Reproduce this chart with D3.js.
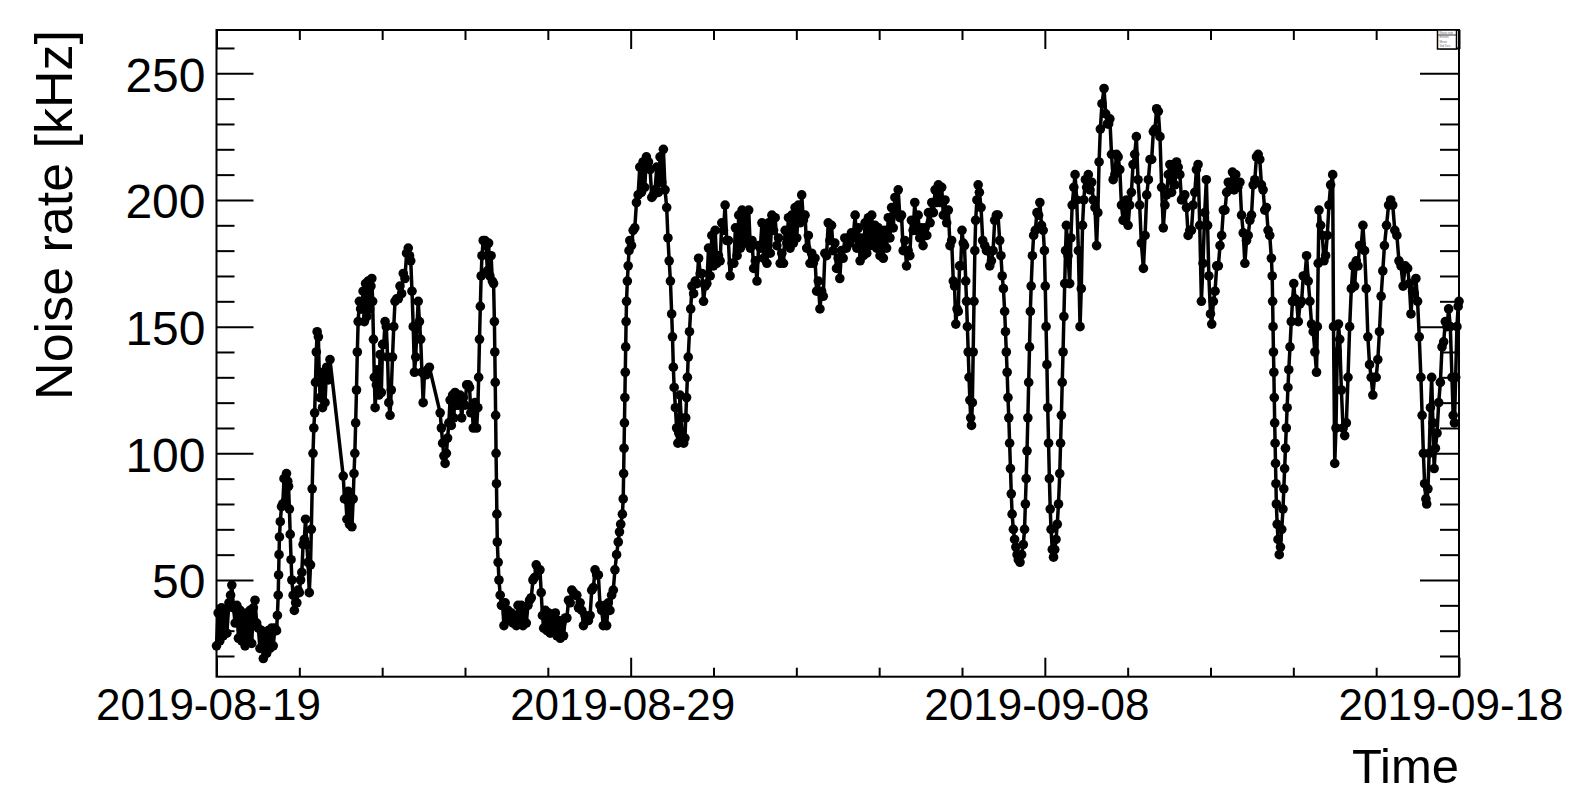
<!DOCTYPE html>
<html>
<head>
<meta charset="utf-8">
<script src="https://cdn.jsdelivr.net/npm/d3@7"></script>
<style>
body { margin: 0; background: #fff; }
text { font-family: "Liberation Sans", Arial, Helvetica, sans-serif; fill: #000; }
</style>
</head>
<body>
<svg id="chart"></svg>
<script>
var width = 1575;
var height = 800;
var frameL = 216.5, frameR = 1459, frameT = 30, frameB = 676.7;

// time axis: days since 2019-08-19 00:00 UTC
var startDate = Date.UTC(2019, 7, 19);
var endDate = Date.UTC(2019, 8, 18);
var yRange = [11.83, 267.09];
var yMajorTicks = [50, 100, 150, 200, 250];
var yMinorTicks = [20, 30, 40, 60, 70, 80, 90, 110, 120, 130, 140, 160, 170, 180, 190, 210, 220, 230, 240, 260];

var days = [
  0.00,0.04,0.08,0.12,0.16,0.20,0.25,0.30,0.34,0.37,0.41,0.45,0.49,0.53,0.57,0.61,0.65,0.69,0.73,0.77,
  0.81,0.85,0.89,0.93,0.97,1.01,1.05,1.09,1.13,1.17,1.21,1.25,1.29,1.33,1.37,1.41,1.45,1.47,1.49,1.50,
  1.51,1.52,1.54,1.57,1.60,1.63,1.66,1.69,1.72,1.74,1.76,1.78,1.80,1.82,1.85,1.88,1.91,1.94,1.97,2.00,
  2.03,2.06,2.09,2.12,2.15,2.18,2.21,2.24,2.27,2.29,2.31,2.33,2.35,2.37,2.39,2.41,2.43,2.46,2.48,2.50,
  2.53,2.56,2.59,2.62,2.66,2.70,2.74,3.06,3.09,3.12,3.15,3.18,3.21,3.24,3.27,3.30,3.32,3.34,3.36,3.38,
  3.40,3.42,3.45,3.48,3.51,3.54,3.57,3.60,3.63,3.66,3.70,3.73,3.75,3.77,3.79,3.81,3.83,3.86,3.89,3.92,
  3.95,3.98,4.01,4.04,4.07,4.10,4.13,4.16,4.19,4.22,4.25,4.28,4.31,4.35,4.39,4.43,4.47,4.51,4.55,4.59,
  4.63,4.66,4.69,4.72,4.75,4.78,4.81,4.84,4.87,4.90,4.93,4.96,4.99,5.02,5.06,5.10,5.14,5.40,5.43,5.46,
  5.49,5.52,5.55,5.58,5.61,5.64,5.67,5.70,5.73,5.76,5.80,5.84,5.88,5.92,5.96,6.00,6.04,6.08,6.11,6.14,
  6.17,6.20,6.24,6.28,6.31,6.33,6.35,6.37,6.39,6.41,6.44,6.48,6.51,6.54,6.57,6.60,6.63,6.66,6.69,6.71,
  6.72,6.73,6.74,6.75,6.76,6.77,6.78,6.80,6.82,6.85,6.88,6.91,6.94,6.97,7.00,7.04,7.08,7.12,7.16,7.20,
  7.24,7.28,7.32,7.36,7.40,7.44,7.48,7.52,7.56,7.60,7.64,7.68,7.72,7.77,7.81,7.84,7.87,7.90,7.94,7.98,
  8.02,8.06,8.10,8.14,8.18,8.22,8.26,8.30,8.34,8.38,8.42,8.46,8.50,8.54,8.58,8.62,8.66,8.70,8.74,8.78,
  8.82,8.86,8.90,8.94,8.98,9.02,9.06,9.10,9.14,9.18,9.22,9.26,9.30,9.34,9.38,9.42,9.46,9.50,9.54,9.58,
  9.62,9.66,9.70,9.73,9.76,9.80,9.82,9.83,9.84,9.85,9.86,9.87,9.88,9.89,9.90,9.92,9.94,9.96,9.98,10.02,
  10.06,10.10,10.14,10.18,10.22,10.26,10.30,10.34,10.38,10.43,10.47,10.51,10.55,10.59,10.63,10.67,10.71,10.75,10.79,10.83,
  10.87,10.90,10.93,10.96,10.99,11.01,11.03,11.05,11.08,11.11,11.14,11.16,11.19,11.22,11.25,11.28,11.31,11.33,11.35,11.37,
  11.39,11.42,11.45,11.48,11.52,11.56,11.60,11.64,11.68,11.72,11.76,11.80,11.84,11.88,11.92,11.96,12.00,12.04,12.08,12.12,
  12.16,12.20,12.24,12.28,12.32,12.36,12.40,12.45,12.49,12.53,12.57,12.61,12.65,12.69,12.73,12.77,12.81,12.85,12.89,12.93,
  12.97,13.01,13.05,13.09,13.13,13.17,13.21,13.25,13.29,13.33,13.37,13.41,13.45,13.49,13.53,13.57,13.61,13.65,13.69,13.73,
  13.77,13.81,13.85,13.89,13.93,13.97,14.01,14.05,14.09,14.13,14.17,14.21,14.25,14.29,14.33,14.37,14.41,14.45,14.49,14.53,
  14.57,14.61,14.65,14.69,14.73,14.77,14.81,14.85,14.89,14.93,14.97,15.01,15.05,15.09,15.13,15.17,15.21,15.25,15.29,15.33,
  15.37,15.42,15.46,15.50,15.54,15.58,15.62,15.66,15.70,15.74,15.78,15.82,15.86,15.90,15.94,15.98,16.02,16.06,16.10,16.14,
  16.18,16.22,16.26,16.30,16.34,16.38,16.42,16.46,16.50,16.54,16.58,16.62,16.66,16.70,16.74,16.78,16.82,16.86,16.90,16.94,
  16.98,17.02,17.06,17.11,17.15,17.19,17.23,17.27,17.31,17.35,17.39,17.43,17.47,17.51,17.55,17.59,17.63,17.67,17.71,17.75,
  17.79,17.82,17.85,17.88,17.91,17.94,17.97,18.00,18.03,18.06,18.09,18.11,18.13,18.15,18.17,18.19,18.21,18.23,18.25,18.27,
  18.29,18.31,18.33,18.36,18.39,18.42,18.46,18.50,18.55,18.59,18.63,18.67,18.71,18.75,18.79,18.83,18.87,18.91,18.94,18.97,
  19.00,19.03,19.05,19.07,19.09,19.11,19.13,19.15,19.17,19.19,19.21,19.24,19.27,19.30,19.33,19.36,19.40,19.44,19.48,19.51,
  19.53,19.55,19.57,19.59,19.61,19.63,19.65,19.67,19.70,19.73,19.77,19.81,19.85,19.88,19.92,19.96,19.99,20.01,20.03,20.05,
  20.07,20.09,20.11,20.13,20.15,20.18,20.21,20.24,20.27,20.30,20.33,20.36,20.38,20.40,20.42,20.44,20.46,20.48,20.50,20.52,
  20.56,20.60,20.63,20.66,20.70,20.73,20.77,20.81,20.85,20.88,20.91,20.94,20.98,21.01,21.05,21.09,21.13,21.17,21.21,21.25,
  21.28,21.31,21.34,21.38,21.43,21.47,21.51,21.54,21.57,21.61,21.65,21.69,21.73,21.77,21.81,21.85,21.89,21.93,21.97,22.01,
  22.05,22.09,22.13,22.17,22.21,22.25,22.29,22.33,22.38,22.42,22.46,22.50,22.54,22.58,22.62,22.66,22.70,22.74,22.78,22.82,
  22.86,22.90,22.94,22.98,23.02,23.06,23.10,23.14,23.18,23.22,23.26,23.30,23.34,23.38,23.42,23.46,23.50,23.54,23.58,23.62,
  23.66,23.70,23.74,23.78,23.82,23.86,23.90,23.93,23.96,24.00,24.03,24.07,24.11,24.15,24.19,24.23,24.27,24.31,24.35,24.39,
  24.43,24.48,24.53,24.57,24.61,24.66,24.71,24.75,24.79,24.83,24.87,24.91,24.95,24.99,25.03,25.07,25.11,25.15,25.19,25.23,
  25.27,25.31,25.35,25.39,25.43,25.47,25.49,25.50,25.51,25.52,25.53,25.54,25.55,25.56,25.57,25.58,25.59,25.61,25.63,25.66,
  25.69,25.72,25.75,25.77,25.79,25.81,25.83,25.85,25.87,25.89,25.92,25.95,25.98,26.01,26.04,26.08,26.12,26.16,26.20,26.24,
  26.28,26.32,26.36,26.40,26.44,26.48,26.52,26.56,26.58,26.60,26.62,26.66,26.70,26.74,26.78,26.82,26.86,26.90,26.95,26.97,
  27.00,27.03,27.06,27.09,27.12,27.16,27.20,27.24,27.28,27.32,27.36,27.40,27.44,27.48,27.52,27.56,27.60,27.64,27.68,27.72,
  27.76,27.80,27.84,27.88,27.92,27.96,28.00,28.04,28.08,28.12,28.16,28.20,28.25,28.30,28.35,28.40,28.45,28.50,28.55,28.60,
  28.65,28.70,28.76,28.80,28.84,28.88,28.92,28.96,29.00,29.04,29.08,29.11,29.14,29.17,29.20,29.22,29.25,29.28,29.31,29.34,
  29.37,29.40,29.43,29.47,29.51,29.55,29.59,29.63,29.67,29.71,29.75,29.79,29.83,29.86,29.89,29.92,29.95,29.98,30.00
];

var rates = [
  24,37,26,39,28,38,29,41,44,48,39,33,40,27,38,26,36,24,37,27,
  38,25,39,42,33,31,23,30,19,28,21,30,23,31,24,31,30,36,44,52,
  60,67,73,79,80,90,81,92,89,87,78,68,58,50,44,38,41,41,46,45,
  50,53,64,66,74,64,57,45,56,70,86,100,110,116,128,140,148,146,132,122,
  129,118,132,120,134,129,137,91,82,82,74,85,72,81,71,82,92,100,112,125,
  140,152,160,157,157,164,152,167,154,168,157,166,169,160,145,130,118,127,133,123,
  139,124,143,143,152,150,138,120,115,125,138,150,160,161,161,166,163,171,169,179,
  181,178,176,164,150,132,138,150,160,152,145,132,120,131,131,133,134,116,110,104,
  99,96,100,106,112,121,111,123,114,124,119,119,123,114,122,119,127,127,126,116,
  118,110,120,110,118,130,145,158,170,178,184,184,182,172,183,170,178,168,167,152,
  140,128,115,100,88,76,65,57,50,44,40,40,32,41,37,38,34,37,33,36,
  32,40,33,40,32,39,33,40,42,43,50,51,56,54,54,45,36,31,38,30,
  37,29,36,30,37,28,34,27,33,28,35,35,42,41,46,45,44,44,39,41,
  38,32,36,34,34,36,46,47,54,52,52,40,38,32,40,32,41,38,44,46,
  54,60,65,69,72,76,82,92,102,112,122,132,142,152,160,168,174,180,184,182,
  188,189,199,202,213,203,215,205,217,215,212,201,202,204,213,203,217,207,220,204,
  197,185,176,168,155,146,134,126,118,110,104,108,123,114,106,104,106,114,122,130,
  138,148,157,166,163,168,167,177,171,171,160,166,167,181,170,186,174,188,175,178,
  176,191,188,198,184,184,170,175,175,189,178,194,181,196,183,195,183,196,181,184,
  173,176,168,182,181,191,177,189,175,191,179,194,188,193,182,185,175,179,175,188,
  183,193,181,194,183,197,185,198,191,202,192,194,181,186,175,179,175,177,164,168,
  157,164,162,179,178,191,184,190,180,183,173,177,169,180,177,185,181,185,183,187,
  185,194,181,189,176,185,178,191,179,193,182,194,182,190,181,189,178,186,177,188,
  181,193,185,197,189,201,195,204,193,194,180,184,174,180,178,192,188,199,188,194,
  185,189,182,189,186,195,191,199,195,204,199,206,199,205,194,200,191,196,182,184,
  168,166,151,157,156,174,174,188,183,182,168,160,150,140,130,121,114,111,120,140,
  160,180,192,200,206,203,197,184,182,180,180,174,176,180,192,194,194,184,178,170,
  165,156,148,140,132,122,114,104,94,84,76,70,66,63,60,58,57,60,64,70,
  80,90,101,114,128,142,156,166,178,186,188,195,194,199,190,188,180,166,150,135,
  118,104,90,78,70,62,59,62,66,72,80,92,104,115,128,140,154,167,180,190,
  178,167,185,198,205,210,200,180,150,165,190,200,208,205,210,204,207,200,197,182,
  195,215,228,238,244,234,230,230,232,218,208,210,218,217,212,198,192,192,200,190,
  198,203,214,218,225,208,198,183,173,186,202,208,216,216,227,228,236,235,225,205,
  189,198,202,210,214,203,212,206,215,213,210,200,201,202,197,186,188,188,198,203,
  212,214,190,160,175,195,208,190,170,155,151,160,164,174,174,182,186,196,196,203,
  207,206,211,204,210,205,207,194,187,175,184,186,192,194,206,208,217,218,216,206,
  204,196,197,188,186,177,170,160,150,140,132,122,112,104,96,88,80,72,66,60,
  63,70,78,86,94,102,110,118,126,133,142,152,160,167,161,160,152,159,160,170,
  170,178,168,160,151,148,140,132,150,175,196,190,186,176,178,186,198,206,210,150,
  96,110,140,151,145,125,110,107,112,130,150,165,174,166,176,174,182,182,190,180,
  165,146,135,130,123,130,130,137,148,162,172,182,190,198,200,198,188,186,176,174,
  166,174,173,167,155,164,163,169,160,146,130,115,100,88,82,80,86,100,118,130,
  112,94,102,108,120,128,142,144,152,150,157,150,130,115,112,130,150,158,160
];

var tickDays = d3.range(0, 31, 2);
var labelDays = [0, 10, 20, 30];

var samples = days.map(function(d, i) {
  return { t: new Date(startDate + d * 864e5), v: rates[i] };
});

var svg = d3.select("#chart")
    .attr("width", width)
    .attr("height", height);

var xScale = d3.scaleUtc()
    .domain([new Date(startDate), new Date(endDate)])
    .range([frameL, frameR]);

var yScale = d3.scaleLinear()
    .domain(yRange)
    .range([frameB, frameT]);

var toDate = function(d) { return new Date(startDate + d * 864e5); };
var minorDates = tickDays.filter(function(d) { return d % 10 !== 0; }).map(toDate);
var majorDates = labelDays.map(toDate);

// data: line plus markers
var line = d3.line()
    .x(function(d) { return xScale(d.t); })
    .y(function(d) { return yScale(d.v); });

svg.append("path")
    .datum(samples)
    .attr("d", line)
    .attr("fill", "none")
    .attr("stroke", "#000")
    .attr("stroke-width", 3.5)
    .attr("stroke-linejoin", "round");

svg.append("g")
  .selectAll("circle")
  .data(samples)
  .enter()
  .append("circle")
    .attr("cx", function(d) { return xScale(d.t); })
    .attr("cy", function(d) { return yScale(d.v); })
    .attr("r", 4.8)
    .attr("fill", "#000");

// bottom axis
svg.append("g")
    .attr("transform", "translate(0," + frameB + ")")
    .call(d3.axisBottom(xScale).tickValues(minorDates).tickSize(-9).tickFormat(""));

var xAxis = svg.append("g")
    .attr("transform", "translate(0," + frameB + ")")
    .call(d3.axisBottom(xScale)
      .tickValues(majorDates)
      .tickSize(-19)
      .tickPadding(12)
      .tickFormat(d3.utcFormat("%Y-%m-%d")));
xAxis.selectAll("text")
    .attr("dx", -8.5)
    .style("font-size", "44px");

// top axis (mirror)
svg.append("g")
    .attr("transform", "translate(0," + frameT + ")")
    .call(d3.axisTop(xScale).tickValues(minorDates).tickSize(-10).tickFormat(""));
svg.append("g")
    .attr("transform", "translate(0," + frameT + ")")
    .call(d3.axisTop(xScale).tickValues(majorDates).tickSize(-19).tickFormat(""));

// left axis
svg.append("g")
    .attr("transform", "translate(" + frameL + ",0)")
    .call(d3.axisLeft(yScale).tickValues(yMinorTicks).tickSize(-18).tickFormat(""));
var yAxis = svg.append("g")
    .attr("transform", "translate(" + frameL + ",0)")
    .call(d3.axisLeft(yScale).tickValues(yMajorTicks).tickSize(-37).tickPadding(11));
yAxis.selectAll("text")
    .attr("dy", "0.37em")
    .style("font-size", "48px");

// right axis (mirror)
svg.append("g")
    .attr("transform", "translate(" + frameR + ",0)")
    .call(d3.axisRight(yScale).tickValues(yMinorTicks).tickSize(-19).tickFormat(""));
svg.append("g")
    .attr("transform", "translate(" + frameR + ",0)")
    .call(d3.axisRight(yScale).tickValues(yMajorTicks).tickSize(-39).tickFormat(""));

svg.selectAll(".domain").remove();
svg.selectAll(".tick line").attr("stroke", "#000").attr("stroke-width", 2);
svg.selectAll(".tick text").attr("fill", "#000").style("font-family", "'Liberation Sans', Arial, sans-serif");

// frame
svg.append("rect")
    .attr("x", frameL)
    .attr("y", frameT)
    .attr("width", frameR - frameL)
    .attr("height", frameB - frameT)
    .attr("fill", "none")
    .attr("stroke", "#000")
    .attr("stroke-width", 2);

// tiny stats box in the corner
var stats = svg.append("g").attr("transform", "translate(1437.5,30)");
stats.append("rect")
    .attr("width", 19).attr("height", 19)
    .attr("fill", "#fff").attr("stroke", "#000").attr("stroke-width", 1.5);
stats.append("line")
    .attr("x1", 0).attr("x2", 19).attr("y1", 5).attr("y2", 5)
    .attr("stroke", "#000").attr("stroke-width", 0.8);
stats.selectAll("text.st")
  .data(["Noise rate", "Entries", "Mean", "Std Dev"])
  .enter()
  .append("text")
    .attr("class", "st")
    .attr("x", 2)
    .attr("y", function(d, i) { return 3.8 + i * 4.4; })
    .style("font-size", "3px")
    .style("fill", "#666")
    .text(function(d) { return d; });

// axis titles
svg.append("text")
    .attr("transform", "rotate(-90)")
    .attr("x", -frameT)
    .attr("y", 72)
    .style("text-anchor", "end")
    .style("font-size", "52px")
    .text("Noise rate [kHz]");

svg.append("text")
    .attr("x", frameR)
    .attr("y", 782.7)
    .style("text-anchor", "end")
    .style("font-size", "49px")
    .text("Time");
</script>
</body>
</html>
